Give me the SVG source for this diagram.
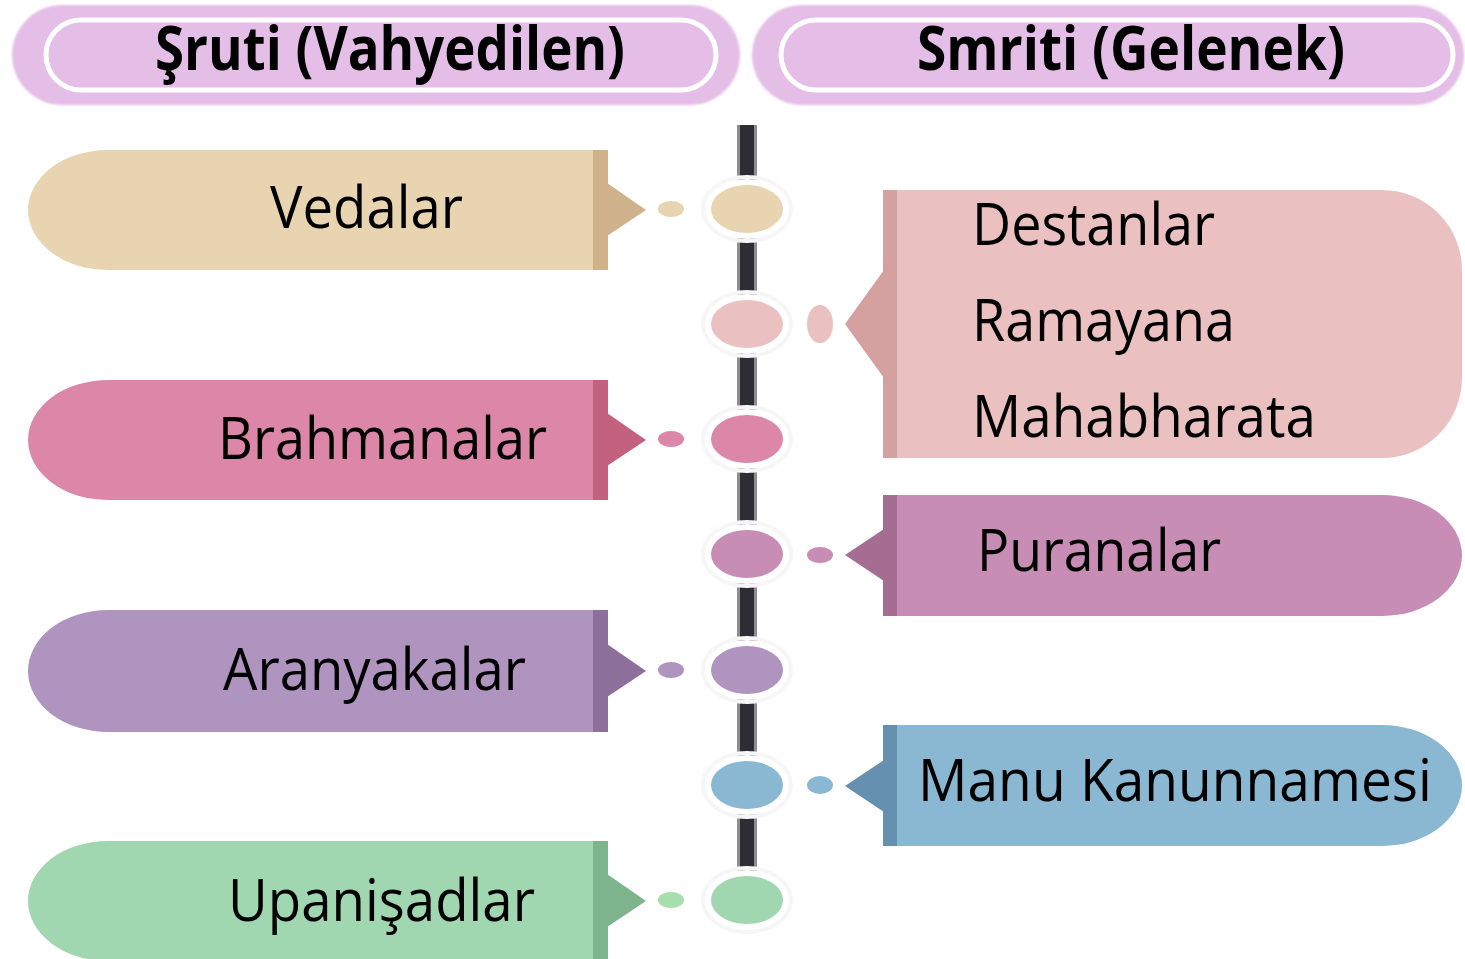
<svg xmlns="http://www.w3.org/2000/svg" width="1465" height="959" viewBox="0 0 1465 959">
<defs>
<style>
.lbl{font-family:"Open Sans","Noto Sans","Liberation Sans",sans-serif;font-size:58px;fill:#000}
.hdr{font-family:"Open Sans","Noto Sans","Liberation Sans",sans-serif;font-size:60px;font-weight:bold;fill:#000}
.hpill{fill:#E4BEE6}
.hin{fill:none;stroke:#ffffff;stroke-width:5}
.gap{fill:#ffffff}
.halo{fill:none;stroke:#f6f6f6;stroke-width:4}
</style>
<filter id="soft" x="-5%" y="-20%" width="110%" height="140%"><feGaussianBlur stdDeviation="1.2"/></filter>
</defs>
<rect width="1465" height="959" fill="#ffffff"/>

<g id="header-sruti">
<rect class="hpill" x="12" y="5" width="728" height="100" rx="50" filter="url(#soft)"/>
<rect class="hin" x="46" y="20" width="670" height="70" rx="35"/>
<text class="hdr" x="155" y="70" textLength="470" lengthAdjust="spacingAndGlyphs">Şruti (Vahyedilen)</text>
</g>
<g id="header-smriti">
<rect class="hpill" x="752" y="5" width="712" height="100" rx="50" filter="url(#soft)"/>
<rect class="hin" x="781" y="20" width="672" height="70" rx="35"/>
<text class="hdr" x="917" y="70" textLength="428" lengthAdjust="spacingAndGlyphs">Smriti (Gelenek)</text>
</g>

<g id="connectors">
<rect x="737" y="125" width="20" height="750" fill="#8e8e92"/>
<rect x="740" y="125" width="14" height="750" fill="#2E2D33"/>
<g fill="#E8D4B0"><ellipse cx="671" cy="209" rx="13" ry="8"/></g>
<g fill="#EBC0C0"><ellipse cx="820" cy="324" rx="13" ry="19"/></g>
<g fill="#DC87A8"><ellipse cx="671" cy="439" rx="13" ry="8"/></g>
<g fill="#C88DB5"><ellipse cx="820" cy="555" rx="13" ry="8"/></g>
<g fill="#AF94C0"><ellipse cx="671" cy="670" rx="13" ry="8"/></g>
<g fill="#8AB7D2"><ellipse cx="820" cy="785" rx="13" ry="9"/></g>
<g fill="#A6DEAE"><ellipse cx="671" cy="900" rx="13" ry="8"/></g>
<g>
<ellipse class="halo" cx="747" cy="209" rx="44" ry="32"/>
<ellipse class="gap" cx="747" cy="209" rx="42" ry="30"/>
<ellipse cx="747" cy="209" rx="36" ry="24" fill="#E8D4B0"/>
<ellipse class="halo" cx="747" cy="324" rx="44" ry="32"/>
<ellipse class="gap" cx="747" cy="324" rx="42" ry="30"/>
<ellipse cx="747" cy="324" rx="36" ry="24" fill="#EBC0C0"/>
<ellipse class="halo" cx="747" cy="439" rx="44" ry="32"/>
<ellipse class="gap" cx="747" cy="439" rx="42" ry="30"/>
<ellipse cx="747" cy="439" rx="36" ry="24" fill="#DC87A8"/>
<ellipse class="halo" cx="747" cy="554" rx="44" ry="32"/>
<ellipse class="gap" cx="747" cy="554" rx="42" ry="30"/>
<ellipse cx="747" cy="554" rx="36" ry="24" fill="#C88DB5"/>
<ellipse class="halo" cx="747" cy="670" rx="44" ry="32"/>
<ellipse class="gap" cx="747" cy="670" rx="42" ry="30"/>
<ellipse cx="747" cy="670" rx="36" ry="24" fill="#AF94C0"/>
<ellipse class="halo" cx="747" cy="785" rx="44" ry="32"/>
<ellipse class="gap" cx="747" cy="785" rx="42" ry="30"/>
<ellipse cx="747" cy="785" rx="36" ry="24" fill="#8AB7D2"/>
<ellipse class="halo" cx="747" cy="900" rx="44" ry="32"/>
<ellipse class="gap" cx="747" cy="900" rx="42" ry="30"/>
<ellipse cx="747" cy="900" rx="36" ry="24" fill="#A0D6B0"/>
</g>
</g>

<g id="node-vedalar">
<path d="M608,150 H108 A80,60 0 0 0 108,270 H608 Z" fill="#E8D4B0"/>
<rect x="593" y="150" width="15" height="120" fill="#CFB18C"/>
<path d="M607,183 L646,210 L607,236 Z" fill="#CFB18C"/>
<text class="lbl" x="270" y="228" textLength="193" lengthAdjust="spacingAndGlyphs">Vedalar</text>
</g>

<g id="node-brahmanalar">
<path d="M608,380 H108 A80,60 0 0 0 108,500 H608 Z" fill="#DC87A8"/>
<rect x="593" y="380" width="15" height="120" fill="#C3627F"/>
<path d="M607,413 L646,440 L607,466 Z" fill="#C3627F"/>
<text class="lbl" x="218" y="459" textLength="329" lengthAdjust="spacingAndGlyphs">Brahmanalar</text>
</g>

<g id="node-aranyakalar">
<path d="M608,610 H108 A80,61 0 0 0 108,732 H608 Z" fill="#AF94C0"/>
<rect x="593" y="610" width="15" height="122" fill="#8C6F9A"/>
<path d="M607,644 L646,671 L607,697 Z" fill="#8C6F9A"/>
<text class="lbl" x="223" y="690" textLength="303" lengthAdjust="spacingAndGlyphs">Aranyakalar</text>
</g>

<g id="node-upanisadlar">
<path d="M608,841 H108 A80,60 0 0 0 108,961 H608 Z" fill="#A0D6B0"/>
<rect x="593" y="841" width="15" height="120" fill="#7DB48C"/>
<path d="M607,874 L646,901 L607,927 Z" fill="#7DB48C"/>
<text class="lbl" x="228" y="921" textLength="307" lengthAdjust="spacingAndGlyphs">Upanişadlar</text>
</g>

<g id="node-destanlar">
<path d="M883,190 H1382 A80,80 0 0 1 1462,270 V378 A80,80 0 0 1 1382,458 H883 Z" fill="#EBC0C0"/>
<rect x="883" y="190" width="14" height="268" fill="#D4A0A0"/>
<path d="M884,270 L845,324 L884,378 Z" fill="#D4A0A0"/>
<text class="lbl" x="972" y="245" textLength="243" lengthAdjust="spacingAndGlyphs">Destanlar</text>
<text class="lbl" x="972" y="341" textLength="263" lengthAdjust="spacingAndGlyphs">Ramayana</text>
<text class="lbl" x="972" y="437" textLength="344" lengthAdjust="spacingAndGlyphs">Mahabharata</text>
</g>

<g id="node-puranalar">
<path d="M883,495 H1382 A80,60.5 0 0 1 1382,616 H883 Z" fill="#C88DB5"/>
<rect x="883" y="495" width="14" height="121" fill="#A66D93"/>
<path d="M884,529 L845,555 L884,581 Z" fill="#A66D93"/>
<text class="lbl" x="977" y="571" textLength="244" lengthAdjust="spacingAndGlyphs">Puranalar</text>
</g>

<g id="node-manu">
<path d="M883,725 H1382 A80,60.5 0 0 1 1382,846 H883 Z" fill="#8AB7D2"/>
<rect x="883" y="725" width="14" height="121" fill="#6690B0"/>
<path d="M884,760 L845,786 L884,812 Z" fill="#6690B0"/>
<text class="lbl" x="918" y="801" textLength="514" lengthAdjust="spacingAndGlyphs">Manu Kanunnamesi</text>
</g>
</svg>
